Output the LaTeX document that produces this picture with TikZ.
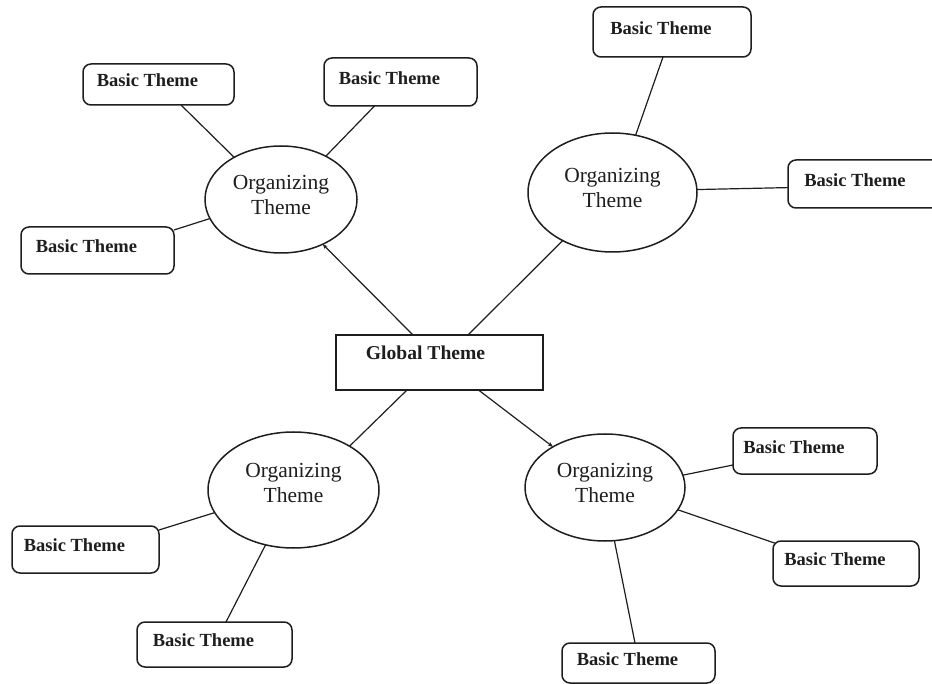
\documentclass[tikz,border=0pt]{standalone}
\usepackage{fontspec}
\setmainfont{Liberation Serif}
\usetikzlibrary{shapes.geometric,arrows.meta}
\definecolor{ink}{HTML}{1E1E1E}
\begin{document}
\begin{tikzpicture}[x=1pt,y=-1pt,
  bt/.style={draw=ink, line width=1.5pt, rounded corners=8pt, inner sep=0pt, outer sep=0pt},
  btl/.style={font=\fontsize{18.5}{22}\selectfont\bfseries, text=ink, xshift=-11pt, yshift=4pt, inner sep=0pt},
  ot/.style={ellipse, draw=ink, line width=1.5pt, inner sep=0pt, outer sep=0pt},
  otlbl/.style={font=\fontsize{21.5}{25}\selectfont, align=center, text=ink, yshift=5pt, inner sep=0pt},
  gtl/.style={font=\fontsize{19.6}{22}\selectfont\bfseries, text=ink, xshift=-14pt, yshift=9.5pt, inner sep=0pt},
  link/.style={draw=ink, line width=1.2pt},
  arr/.style={link, -{Stealth[length=5pt,width=4pt]}}
]
\fill[white] (0,0) rectangle (932,684);
\useasboundingbox (0,0) rectangle (932,684);

% global theme
\node[draw=ink, line width=1.8pt, minimum width=207pt, minimum height=55pt, inner sep=0pt, outer sep=0pt,
      label={[gtl]center:Global Theme}] (g) at (439.5,362.5) {};

% organizing themes
\node[ot, minimum width=152pt, minimum height=107pt, label={[otlbl]center:Organizing\\Theme}] (eTL) at (281,199.5) {};
\node[ot, minimum width=169pt, minimum height=119pt, label={[otlbl]center:Organizing\\Theme}] (eTR) at (612.5,192.5) {};
\node[ot, minimum width=171pt, minimum height=116pt, label={[otlbl,yshift=2pt]center:Organizing\\Theme}] (eBL) at (293.5,490) {};
\node[ot, minimum width=160pt, minimum height=107pt, label={[otlbl]center:Organizing\\Theme}] (eBR) at (605,487.5) {};

% basic themes
\node[bt, minimum width=151pt, minimum height=41pt, label={[btl]center:Basic Theme}] (tl1) at (158.5,84.5) {};
\node[bt, minimum width=153pt, minimum height=48pt, label={[btl]center:Basic Theme}] (tl2) at (400.5,82) {};
\node[bt, minimum width=153pt, minimum height=47pt, label={[btl]center:Basic Theme}] (tl3) at (97.5,250.5) {};
\node[bt, minimum width=158pt, minimum height=50pt, label={[btl]center:Basic Theme}] (tr1) at (672,32) {};
\node[bt, minimum width=156pt, minimum height=48pt, label={[btl]center:Basic Theme}] (tr2) at (866,184) {};
\node[bt, minimum width=144pt, minimum height=46pt, label={[btl]center:Basic Theme}] (br1) at (805,451) {};
\node[bt, minimum width=146pt, minimum height=45pt, label={[btl]center:Basic Theme}] (br2) at (846,563.5) {};
\node[bt, minimum width=153pt, minimum height=40pt, label={[btl]center:Basic Theme}] (br3) at (638.5,663) {};
\node[bt, minimum width=147pt, minimum height=47pt, label={[btl]center:Basic Theme}] (bl1) at (85.5,549.5) {};
\node[bt, minimum width=155pt, minimum height=45pt, label={[btl]center:Basic Theme}] (bl2) at (214.5,644.5) {};

% connectors
\draw[link] ([xshift=22.5pt]tl1.south) -- (eTL.138.4);
\draw[link] ([xshift=-26pt]tl2.south) -- (eTL.44.7);
\draw[link] ([yshift=20.5pt]tl3.east) -- (eTL.195.9);
\draw[arr] ([xshift=-26.5pt]g.north) -- (eTL.313.3);
\draw[link] ([xshift=28.5pt]g.north) -- (eTR.224.4);
\draw[link] ([xshift=-9pt]tr1.south) -- (eTR.68.6);
\draw[link] ([yshift=-3.6pt]tr2.west) -- (eTR.2.4);
\draw[link] ([xshift=-32.5pt]g.south) -- (eBL.38.8);
\draw[arr] ([xshift=39pt]g.south) -- (eBR.142.8);
\draw[link] ([yshift=19.5pt]bl1.east) -- (eBL.196.8);
\draw[link] ([xshift=11.5pt]bl2.north) -- (eBL.243.4);
\draw[link] ([yshift=-14pt]br1.west) -- (eBR.9.8);
\draw[link] ([shift={(2.3pt,-2.3pt)}]br2.north west) -- (eBR.343.1);
\draw[link] ([xshift=-3.5pt]br3.north) -- (eBR.280.6);
\end{tikzpicture}
\end{document}
